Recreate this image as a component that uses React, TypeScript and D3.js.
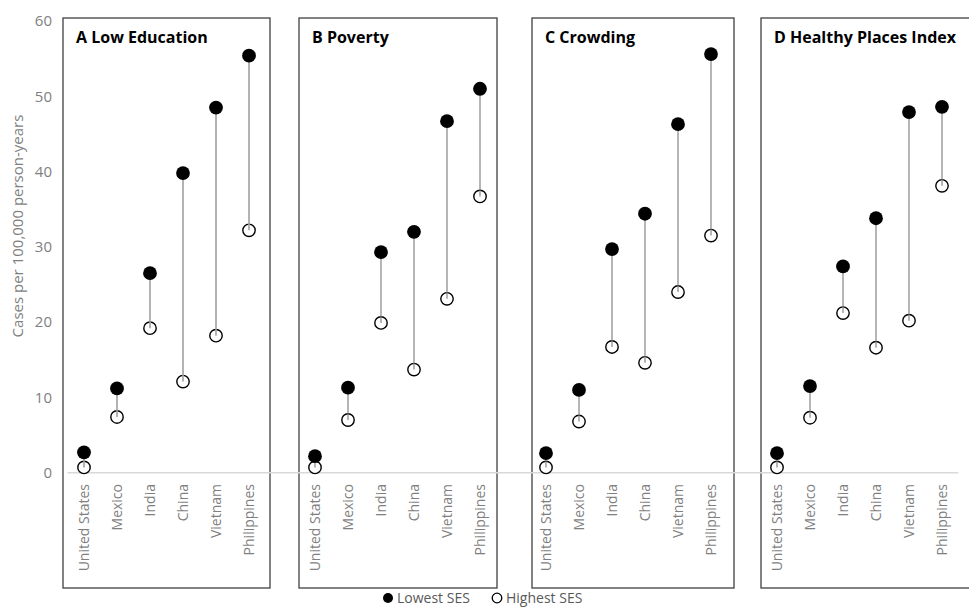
import React from "react";
import * as d3 from "d3";

const countries = ["United States", "Mexico", "India", "China", "Vietnam", "Philippines"];
const panels = ["A Low Education", "B Poverty", "C Crowding", "D Healthy Places Index"];
const lowestSES = [
  [2.7, 11.2, 26.5, 39.8, 48.5, 55.4],
  [2.2, 11.3, 29.3, 32.0, 46.7, 51.0],
  [2.6, 11.0, 29.7, 34.4, 46.3, 55.6],
  [2.6, 11.5, 27.4, 33.8, 47.9, 48.6],
];
const highestSES = [
  [0.7, 7.4, 19.2, 12.1, 18.2, 32.2],
  [0.7, 7.0, 19.9, 13.7, 23.1, 36.7],
  [0.7, 6.8, 16.7, 14.6, 24.0, 31.5],
  [0.7, 7.3, 21.2, 16.6, 20.2, 38.1],
];
const yTicks = [0, 10, 20, 30, 40, 50, 60];
const yTitle = "Cases per 100,000 person-years";
const legendLabels = ["Lowest SES", "Highest SES"];

const W = 969;
const H = 607;
const FONT = "'Open Sans', 'Noto Sans', sans-serif";

// box extents around each panel (left pad, right pad) relative to first/last country centres
const boxPads: [number, number][] = [
  [21, 21],
  [16, 17],
  [14, 23],
  [16, 60],
];

export default function App() {
  const slots: string[] = [];
  panels.forEach((p, pi) => {
    countries.forEach((c) => slots.push(`${pi}|${c}`));
    if (pi < panels.length - 1) slots.push(`gap${pi}`);
  });
  const x = d3.scaleBand<string>().domain(slots).range([67.5, 958.5]).padding(0);
  const cx = (pi: number, c: string) => (x(`${pi}|${c}`) as number) + x.bandwidth() / 2;
  const y = d3.scaleLinear().domain([0, 60]).range([472.7, 21]);

  const boxTop = 18;
  const boxBottom = 588;

  return (
    <svg width={W} height={H} style={{ position: "absolute", left: 0, top: 0, background: "#fff" }}>
      <rect x={0} y={0} width={W} height={H} fill="#fff" />
      {/* panel boxes */}
      {panels.map((p, pi) => {
        const l = cx(pi, countries[0]) - boxPads[pi][0];
        const r = cx(pi, countries[countries.length - 1]) + boxPads[pi][1];
        return (
          <rect key={p} x={l} y={boxTop} width={r - l} height={boxBottom - boxTop}
            fill="none" stroke="#404040" strokeWidth={1.3} />
        );
      })}
      {/* zero line */}
      <line x1={67.5} x2={958.5} y1={y(0)} y2={y(0)} stroke="#d9d9d9" strokeWidth={1.5} />
      {/* y ticks */}
      {yTicks.map((t) => (
        <text key={t} x={52} y={y(t)} dy="0.35em" textAnchor="end" fontFamily={FONT}
          fontSize={15} fill="#7f7f7f">{t}</text>
      ))}
      <text transform={`translate(23,226) rotate(-90)`} textAnchor="middle"
        fontFamily={FONT} fontSize={15} fill="#7f7f7f">{yTitle}</text>
      {/* titles */}
      {panels.map((p, pi) => (
        <text key={p} x={cx(pi, countries[0]) - boxPads[pi][0] + 13} y={43} fontFamily={FONT}
          fontWeight="bold" fontSize={16} fill="#000">{p}</text>
      ))}
      {/* category labels */}
      {panels.map((p, pi) =>
        countries.map((c) => (
          <text key={`${pi}${c}`} transform={`translate(${cx(pi, c) + 5},484) rotate(-90)`}
            textAnchor="end" fontFamily={FONT} fontSize={14} fill="#7f7f7f">{c}</text>
        ))
      )}
      {/* open markers */}
      {panels.map((p, pi) =>
        countries.map((c, ci) => (
          <circle key={`o${pi}${c}`} cx={cx(pi, c)} cy={y(highestSES[pi][ci])} r={6.2}
            fill="#fff" stroke="#000" strokeWidth={1.4} />
        ))
      )}
      {/* connectors */}
      {panels.map((p, pi) =>
        countries.map((c, ci) => (
          <line key={`l${pi}${c}`} x1={cx(pi, c)} x2={cx(pi, c)}
            y1={y(lowestSES[pi][ci])} y2={y(highestSES[pi][ci])}
            stroke={pi === 0 ? "#a0a0a0" : "#7a7a7a"} strokeWidth={pi === 0 ? 1.6 : 1.1} />
        ))
      )}
      {/* filled markers */}
      {panels.map((p, pi) =>
        countries.map((c, ci) => (
          <circle key={`f${pi}${c}`} cx={cx(pi, c)} cy={y(lowestSES[pi][ci])} r={6.9} fill="#000" />
        ))
      )}
      {/* legend */}
      <circle cx={388} cy={598} r={5} fill="#000" />
      <text x={397} y={598} dy="0.35em" fontFamily={FONT} fontSize={14} fill="#595959">{legendLabels[0]}</text>
      <circle cx={497} cy={598} r={4.8} fill="#fff" stroke="#000" strokeWidth={1.3} />
      <text x={506} y={598} dy="0.35em" fontFamily={FONT} fontSize={14} fill="#595959">{legendLabels[1]}</text>
    </svg>
  );
}
